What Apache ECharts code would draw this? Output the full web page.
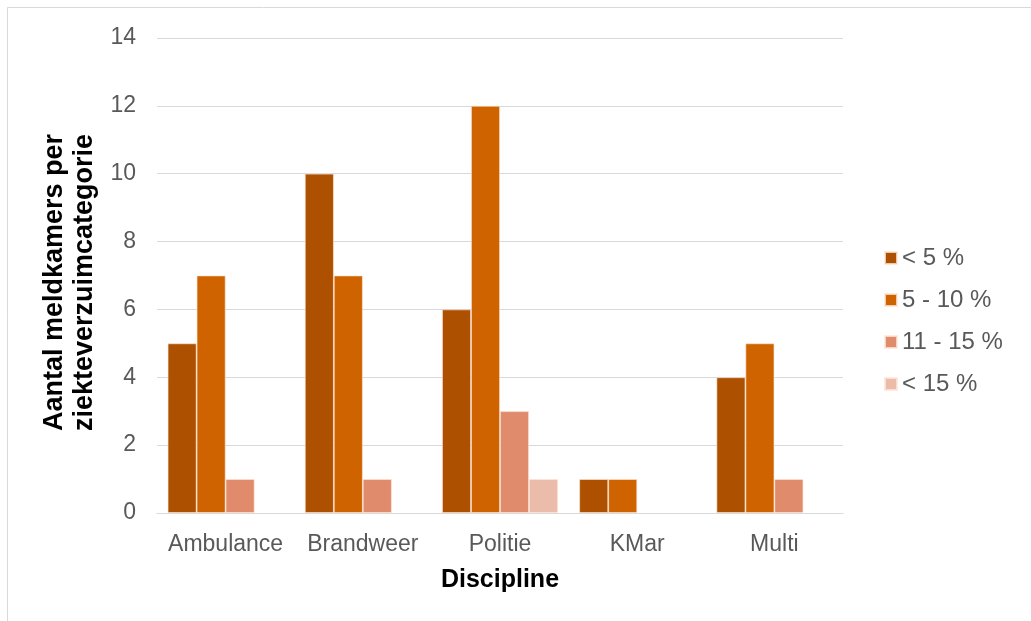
<!DOCTYPE html>
<html><head><meta charset="utf-8">
<script src="https://cdn.jsdelivr.net/npm/echarts@6/dist/echarts.min.js"></script>
<style>html,body{margin:0;padding:0;background:#fff}#c{width:1031px;height:621px}</style>
</head><body><div id="c"></div>
<script>
var categories = ['Ambulance', 'Brandweer', 'Politie', 'KMar', 'Multi'];
var seriesNames = ['< 5 %', '5 - 10 %', '11 - 15 %', '< 15 %'];
var lt5 = [5, 10, 6, 1, 4];
var s5to10 = [7, 7, 12, 1, 5];
var s11to15 = [1, 1, 3, 0, 1];
var gt15 = [0, 0, 1, 0, 0];
var yTicks = [0, 14, 2];
var colors = ['#AD5000', '#CE6300', '#E08B6B', '#ECBCAB'];
var values = [lt5, s5to10, s11to15, gt15];

var chart = echarts.init(document.getElementById('c'));
var font = 'Arial, "Liberation Sans", sans-serif';
chart.setOption({
  animation: false,
  textStyle: {fontFamily: font},
  graphic: [{type: 'rect', shape: {x: 7.5, y: 7.5, width: 1030, height: 620}, style: {fill: 'none', stroke: '#d9d9d9', lineWidth: 1}}],
  grid: {left: 157, right: 188, top: 38, bottom: 108, containLabel: false},
  legend: {
    orient: 'vertical', left: 879, top: 241, itemWidth: 12, itemHeight: 12, itemGap: 18,
    icon: 'rect',
    textStyle: {fontSize: 24, color: '#595959', fontFamily: font},
    data: seriesNames
  },
  xAxis: {
    type: 'category', data: categories,
    name: 'Discipline', nameLocation: 'middle', nameGap: 55,
    nameTextStyle: {fontSize: 25, fontWeight: 'bold', color: '#000', fontFamily: font},
    axisLine: {lineStyle: {color: '#d9d9d9', width: 1}},
    axisTick: {show: false},
    axisLabel: {fontSize: 23, color: '#595959', margin: 20, fontFamily: font, interval: 0}
  },
  yAxis: {
    type: 'value', min: yTicks[0], max: yTicks[1], interval: yTicks[2],
    name: 'Aantal meldkamers per\nziekteverzuimcategorie', nameLocation: 'middle', nameGap: 46,
    nameTextStyle: {fontSize: 27, fontWeight: 'bold', color: '#000', fontFamily: font, lineHeight: 30, padding: [0, 14, 0, 0]},
    axisLine: {show: false}, axisTick: {show: false},
    axisLabel: {fontSize: 23, color: '#595959', margin: 21, fontFamily: font},
    splitLine: {lineStyle: {color: '#d9d9d9', width: 1}}
  },
  series: values.map(function (v, i) {
    return {
      name: seriesNames[i], type: 'bar',
      data: v.map(function (x) { return x === 0 ? {value: x, itemStyle: {borderWidth: 0}} : x; }),
      barGap: '0%', barCategoryGap: '15.5%',
      itemStyle: {color: colors[i], borderColor: 'rgba(255,230,215,0.8)', borderWidth: 0.8}
    };
  })
});
</script></body></html>
